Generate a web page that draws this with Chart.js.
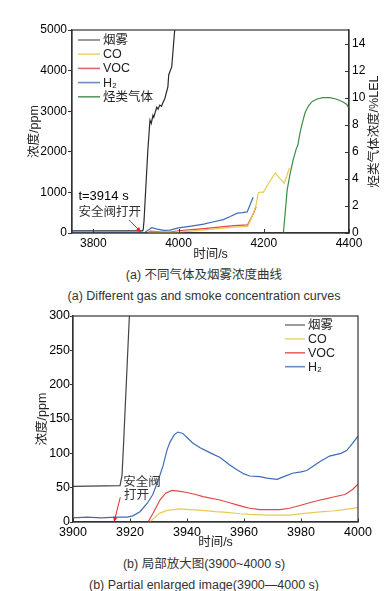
<!DOCTYPE html>
<html lang="zh">
<head>
<meta charset="UTF-8">
<title>不同气体及烟雾浓度曲线</title>
<script src="https://cdn.jsdelivr.net/npm/chart.js"></script>
<style>
  body { margin: 0; width: 390px; height: 591px; background: #fff; position: relative; overflow: hidden;
    font-family: 'Liberation Sans', 'Noto Sans CJK SC', sans-serif; }
  .box { position: absolute; left: 0; width: 390px; }
  #topBox { top: 0; height: 262px; }
  #botBox { top: 300px; height: 250px; }
  .cap { position: absolute; left: 204px; transform: translateX(-50%); white-space: nowrap;
    color: #333; font-size: 12.5px; line-height: 14px; }
</style>
</head>
<body>
<div class="box" id="topBox"><canvas id="topChart" width="390" height="262"></canvas></div>
<div class="cap" style="top:268px">(a) 不同气体及烟雾浓度曲线</div>
<div class="cap" style="top:289px">(a) Different gas and smoke concentration curves</div>
<div class="box" id="botBox"><canvas id="botChart" width="390" height="250"></canvas></div>
<div class="cap" style="top:557px">(b) 局部放大图(3900~4000 s)</div>
<div class="cap" style="top:578px">(b) Partial enlarged image(3900—4000 s)</div>

<script>
// ---- (a) 全过程 ----
const topXTicks = [3800, 4000, 4200, 4400];
const topYTicks = [0, 1000, 2000, 3000, 4000, 5000];
const topY2Ticks = [0, 2, 4, 6, 8, 10, 12, 14];

const topSmokeT = [3750, 3916, 3917, 3919, 3928, 3933, 3936, 3940, 3942, 3946, 3949, 3952, 3956, 3960, 3963, 3968, 3975, 3977, 3984, 3991, 3996];
const topSmokeV = [52, 53, 75, 300, 2044, 2780, 2700, 2900, 2850, 3000, 3100, 3050, 3150, 3120, 3200, 3320, 3600, 3900, 4090, 5000, 5400];
const topCoT = [3927, 3937, 3970, 4000, 4030, 4060, 4100, 4130, 4162, 4172, 4182, 4187, 4193, 4199, 4210, 4227, 4237, 4248, 4254, 4260];
const topCoV = [0, 20, 10, 21, 45, 75, 115, 145, 165, 380, 690, 985, 1010, 1000, 1200, 1480, 1350, 1230, 1400, 1600];
const topVocT = [3926, 3935, 3960, 3980, 4000, 4030, 4060, 4100, 4130, 4162, 4172, 4182];
const topVocV = [0, 46, 20, 25, 55, 85, 110, 150, 180, 200, 400, 640];
const topH2T = [3750, 3920, 3930, 3937, 3950, 3965, 3980, 4000, 4030, 4059, 4080, 4105, 4120, 4138, 4150, 4161, 4175];
const topH2V = [7, 7, 80, 131, 95, 65, 73, 125, 170, 220, 270, 330, 400, 490, 500, 520, 880];
// 烃类气体 (%LEL, 右轴)
const topHcT = [4246, 4250, 4255, 4262, 4269, 4276, 4280, 4285, 4291, 4297, 4305, 4313, 4325, 4339, 4355, 4370, 4385, 4395, 4400];
const topHcV = [0, 1.4, 3.2, 4.4, 5.4, 6.2, 6.5, 7.4, 8.2, 8.9, 9.4, 9.7, 9.9, 10, 10, 9.9, 9.7, 9.5, 9.2];

// ---- (b) 局部放大 3900~4000 s ----
const botXTicks = [3900, 3920, 3940, 3960, 3980, 4000];
const botYTicks = [0, 50, 100, 150, 200, 250, 300];

const botSmokeT = [3900, 3916.5, 3917.2, 3917.7, 3920];
const botSmokeV = [52, 53, 68, 110, 320];
const botCoT = [3927, 3928.5, 3930.5, 3933, 3937.5, 3941, 3945.6, 3950, 3954, 3958.6, 3962, 3968, 3976, 3982, 3987.7, 3991, 3995, 4000];
const botCoV = [0, 6, 13, 17, 19, 18, 17, 15, 14, 12, 11, 10, 10, 13, 15, 16, 18, 21];
const botVocT = [3926.3, 3928, 3930.5, 3932.5, 3934.7, 3937, 3940, 3943, 3945.6, 3951.6, 3955, 3957.5, 3960, 3962, 3965.6, 3972.6, 3976, 3979.6, 3983, 3986.7, 3989, 3991, 3995.4, 3998, 4000];
const botVocV = [0, 12, 32, 42, 46, 45, 43, 40, 37, 32, 28, 25, 22, 20, 18, 18, 20, 24, 28, 32, 34, 36, 40, 47, 55];
const botH2T = [3900, 3905, 3910, 3915, 3919, 3921, 3923.5, 3926, 3928, 3930, 3931.6, 3933, 3934, 3935.5, 3936.8, 3938.5, 3940, 3942, 3944.6, 3948, 3951.6, 3955, 3957.5, 3960, 3962, 3965.6, 3968, 3971.6, 3974, 3977, 3980, 3982, 3984.5, 3986.7, 3990, 3994, 3996, 3998, 4000];
const botH2V = [6, 7, 6, 7, 7, 9, 15, 27, 40, 62, 82, 105, 116, 127, 131, 129, 123, 115, 108, 101, 94, 83, 76, 70, 67, 66, 64, 62, 66, 71, 73, 75, 82, 88, 96, 100, 104, 114, 125];

const FONT = "'Liberation Sans', 'Noto Sans CJK SC', sans-serif";
Chart.defaults.font.family = FONT;
Chart.defaults.color = '#000';

const colSmoke = '#2b2b2b', colCo = '#e6cb52', colVoc = '#e04848', colH2 = '#3c6db3', colHc = '#3d8c48';

function pts(ts, vs) { return ts.map((t, i) => ({ x: t, y: vs[i] })); }

function ds(label, data, color, legendColor, axis) {
  return { label, data, borderColor: color, legendColor, backgroundColor: color,
    borderWidth: 1.2, pointRadius: 0, tension: 0, fill: false, yAxisID: axis || 'y' };
}

// 框、向内刻度、图例、注释
function decor(cfg) {
  return {
    id: 'decor',
    afterDatasetsDraw(chart) {
      const { ctx, chartArea: a, scales } = chart;
      ctx.save();
      // 向内刻度
      ctx.strokeStyle = '#333'; ctx.lineWidth = 1;
      scales.x.ticks.forEach(tk => {
        const px = Math.round(scales.x.getPixelForValue(tk.value)) + 0.5;
        ctx.beginPath(); ctx.moveTo(px, a.bottom); ctx.lineTo(px, a.bottom - cfg.tickIn); ctx.stroke();
      });
      if (scales.y2) {
        scales.y2.ticks.forEach(tk => {
          const py = Math.round(scales.y2.getPixelForValue(tk.value)) + 0.5;
          ctx.beginPath(); ctx.moveTo(a.right, py); ctx.lineTo(a.right - 4, py); ctx.stroke();
        });
      }
      // 边框
      ctx.strokeStyle = '#333'; ctx.lineWidth = 1.2;
      ctx.strokeRect(a.left, a.top, a.right - a.left, a.bottom - a.top);

      // 图例
      ctx.font = '12.5px ' + FONT; ctx.textBaseline = 'middle'; ctx.textAlign = 'left';
      chart.data.datasets.forEach((d, i) => {
        const y = cfg.legY + i * cfg.legRow;
        ctx.strokeStyle = d.legendColor; ctx.lineWidth = 1.6;
        ctx.beginPath(); ctx.moveTo(cfg.legX, y); ctx.lineTo(cfg.legX + cfg.legLen, y); ctx.stroke();
        ctx.fillStyle = '#222';
        ctx.fillText(d.label, cfg.legX + cfg.legLen + 3, y + 0.5);
      });

      // 注释文字
      const x = scales.x, y = scales.y;
      cfg.notes.forEach(n => {
        ctx.font = n.font + ' ' + FONT; ctx.fillStyle = n.color;
        ctx.fillText(n.text, x.getPixelForValue(n.t), y.getPixelForValue(n.v));
      });
      // 红色箭头
      const [t0, v0, t1, v1] = cfg.arrow;
      const x0 = x.getPixelForValue(t0), y0 = y.getPixelForValue(v0);
      const x1 = x.getPixelForValue(t1), y1 = y.getPixelForValue(v1);
      const ang = Math.atan2(y1 - y0, x1 - x0);
      ctx.strokeStyle = '#e52222'; ctx.fillStyle = '#e52222'; ctx.lineWidth = 1;
      ctx.beginPath(); ctx.moveTo(x0, y0); ctx.lineTo(x1 - 3 * Math.cos(ang), y1 - 3 * Math.sin(ang)); ctx.stroke();
      ctx.beginPath();
      ctx.moveTo(x1, y1);
      ctx.lineTo(x1 - 5 * Math.cos(ang) + 2.2 * Math.sin(ang), y1 - 5 * Math.sin(ang) - 2.2 * Math.cos(ang));
      ctx.lineTo(x1 - 5 * Math.cos(ang) - 2.2 * Math.sin(ang), y1 - 5 * Math.sin(ang) + 2.2 * Math.cos(ang));
      ctx.closePath(); ctx.fill();

      // 右轴标题
      if (cfg.rightTitle) {
        ctx.translate(cfg.rightTitleX, (a.top + a.bottom) / 2);
        ctx.rotate(-Math.PI / 2);
        ctx.font = '12.5px ' + FONT; ctx.fillStyle = '#222'; ctx.textAlign = 'center';
        ctx.fillText(cfg.rightTitle, 0, 0);
      }
      ctx.restore();
    }
  };
}

const tickFmt = v => String(v);
const setTicks = arr => s => { s.ticks = arr.map(v => ({ value: v })); };
const axisBorder = { color: '#333', width: 1.2 };
const noGrid = { display: false, drawTicks: false, tickLength: 0 };

new Chart(document.getElementById('topChart'), {
  type: 'line',
  data: {
    datasets: [
      ds('烟雾', pts(topSmokeT, topSmokeV), colSmoke, '#808080'),
      ds('CO', pts(topCoT, topCoV), colCo, '#ead67a'),
      ds('VOC', pts(topVocT, topVocV), colVoc, '#e46868'),
      ds('H₂', pts(topH2T, topH2V), colH2, '#6a8cc0'),
      ds('烃类气体', pts(topHcT, topHcV), colHc, '#5c9a66', 'y2')
    ]
  },
  options: {
    responsive: false, animation: false, events: [],
    layout: { padding: { top: 30, left: 0, right: 0, bottom: 0 } },
    plugins: { legend: { display: false }, tooltip: { enabled: false } },
    scales: {
      x: {
        type: 'linear', min: 3750, max: 4400,
        afterBuildTicks: setTicks(topXTicks), afterFit: s => { s.height = 29; },
        grid: noGrid, border: axisBorder,
        ticks: { callback: tickFmt, font: { size: 12 }, padding: 3, maxRotation: 0 },
        title: { display: true, text: '时间/s', font: { size: 12.5 }, color: '#222', padding: { top: 0, bottom: 0 } }
      },
      y: {
        position: 'left', min: 0, max: 5000,
        afterBuildTicks: setTicks(topYTicks), afterFit: s => { s.width = 72; },
        grid: { drawOnChartArea: false, tickLength: 4, color: '#333' }, border: axisBorder,
        ticks: { callback: tickFmt, font: { size: 12 }, padding: 1 },
        title: { display: true, text: '浓度/ppm', font: { size: 12.5 }, color: '#222', padding: { top: 27.5, bottom: 0 } }
      },
      y2: {
        position: 'right', min: 0, max: 15,
        afterBuildTicks: setTicks(topY2Ticks), afterFit: s => { s.width = 41; },
        grid: noGrid, border: axisBorder,
        ticks: { callback: tickFmt, font: { size: 12 }, padding: 3 }
      }
    }
  },
  plugins: [decor({
    tickIn: 4, legX: 78, legY: 40, legRow: 14.2, legLen: 22,
    notes: [
      { text: 't=3914 s', t: 3765, v: 905, font: '13px', color: '#000' },
      { text: '安全阀打开', t: 3765, v: 510, font: '12.5px', color: '#333' }
    ],
    arrow: [3884, 320, 3912, 20],
    rightTitle: '烃类气体浓度/%LEL', rightTitleX: 375
  })]
});

new Chart(document.getElementById('botChart'), {
  type: 'line',
  data: {
    datasets: [
      ds('烟雾', pts(botSmokeT, botSmokeV), '#444', '#808080'),
      ds('CO', pts(botCoT, botCoV), colCo, '#ead67a'),
      ds('VOC', pts(botVocT, botVocV), colVoc, '#e46868'),
      ds('H₂', pts(botH2T, botH2V), colH2, '#6a8cc0')
    ]
  },
  options: {
    responsive: false, animation: false, events: [],
    layout: { padding: { top: 16, left: 0, right: 32, bottom: 0 } },
    plugins: { legend: { display: false }, tooltip: { enabled: false } },
    scales: {
      x: {
        type: 'linear', min: 3900, max: 4000,
        afterBuildTicks: setTicks(botXTicks), afterFit: s => { s.height = 28; },
        grid: noGrid, border: axisBorder,
        ticks: { callback: tickFmt, font: { size: 12.5 }, padding: 3, maxRotation: 0 },
        title: { display: true, text: '时间/s', font: { size: 12.5 }, color: '#222', padding: { top: 0, bottom: 0 } }
      },
      y: {
        position: 'left', min: 0, max: 300,
        afterBuildTicks: setTicks(botYTicks), afterFit: s => { s.width = 73; },
        grid: { drawOnChartArea: false, tickLength: 3, color: '#333' }, border: axisBorder,
        ticks: { callback: tickFmt, font: { size: 12.5 }, padding: 0 },
        title: { display: true, text: '浓度/ppm', font: { size: 12.5 }, color: '#222', padding: { top: 35.5, bottom: 0 } }
      }
    }
  },
  plugins: [decor({
    tickIn: 3.5, legX: 285, legY: 25, legRow: 13.9, legLen: 20,
    notes: [
      { text: '安全阀', t: 3917.6, v: 57, font: '12.5px', color: '#333' },
      { text: '打开', t: 3917.9, v: 38, font: '12.5px', color: '#333' }
    ],
    arrow: [3916.6, 36, 3914.4, 0]
  })]
});
</script>
</body>
</html>
